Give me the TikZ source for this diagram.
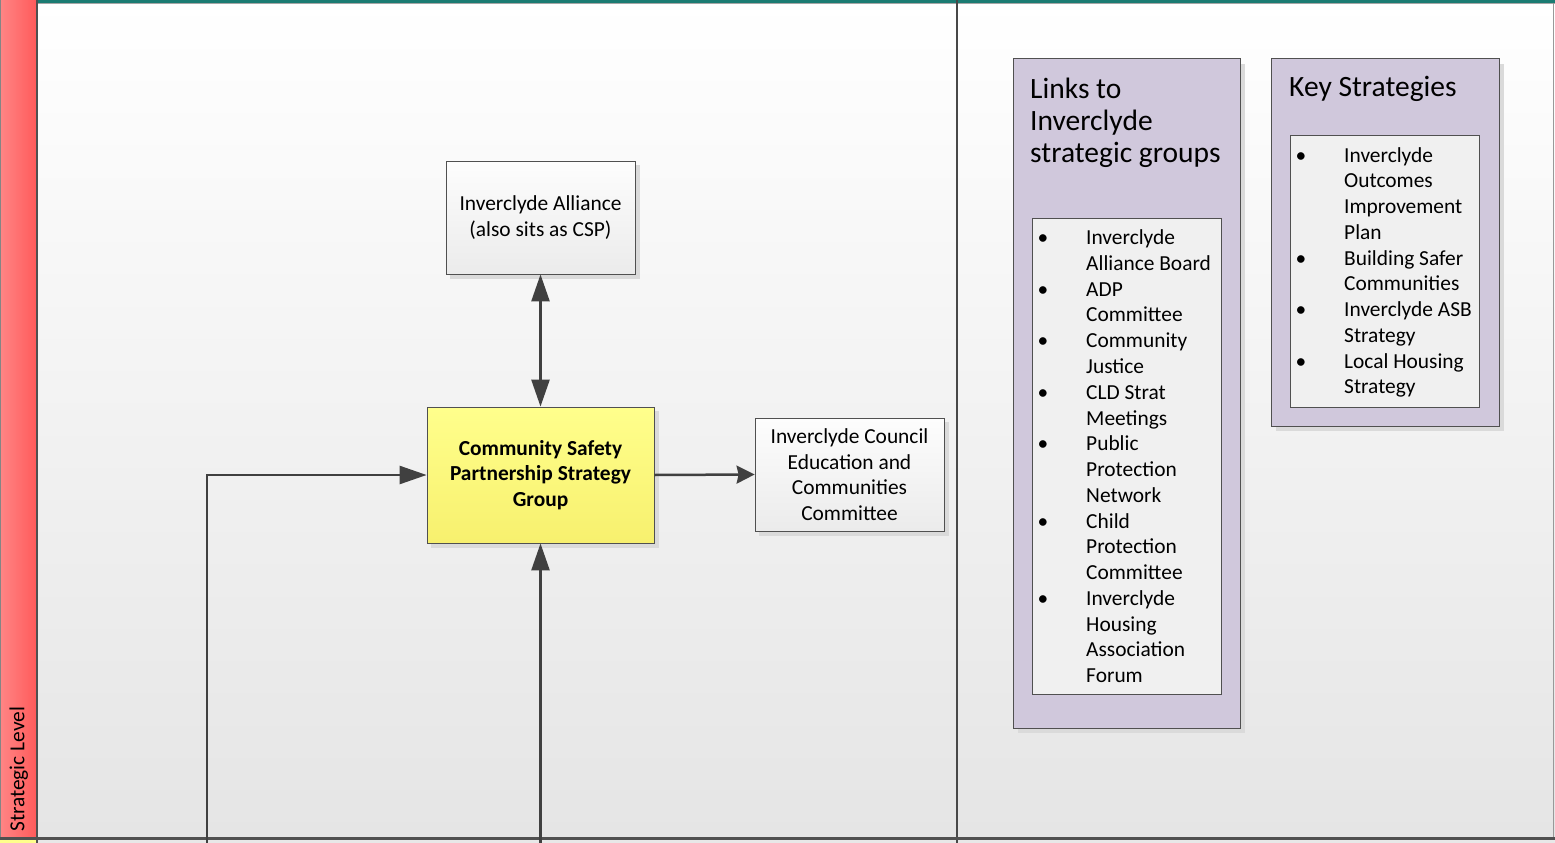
\documentclass[tikz,border=0pt]{standalone}
\usepackage{fontspec}
\setmainfont{Carlito}
\usetikzlibrary{arrows.meta}
\definecolor{edgec}{HTML}{505050}
\definecolor{arrowc}{HTML}{404040}
\definecolor{lav}{HTML}{D0C8DC}
\definecolor{tealline}{HTML}{1B7B72}
\definecolor{bandL}{HTML}{FF8585}
\definecolor{bandR}{HTML}{FF5A5A}
\definecolor{boxtop}{HTML}{FDFDFD}
\definecolor{boxbot}{HTML}{EBEBEB}
\definecolor{yeltop}{HTML}{FFFF8C}
\definecolor{yelbot}{HTML}{F7F06E}
\definecolor{inner}{HTML}{F0F0F0}
\definecolor{shad}{HTML}{DADADA}
\definecolor{bgbot}{HTML}{E5E5E5}
\definecolor{bgfoot}{HTML}{E8E8E8}
\tikzset{
  bodyfont/.style={font=\fontsize{21.4}{25.7}\selectfont},
  titlefont/.style={font=\fontsize{29.5}{32}\selectfont},
  procbox/.style={draw=edgec, line width=0.8pt, top color=boxtop, bottom color=boxbot,
     align=center, bodyfont, inner sep=0pt},
  cspbox/.style={draw=edgec, line width=0.8pt, top color=yeltop, bottom color=yelbot,
     align=center, font=\fontsize{21.4}{25.7}\selectfont\bfseries, inner sep=0pt},
  conn/.style={draw=arrowc, line width=2.5pt},
  bigtip/.style={-{Triangle[length=27pt,width=18pt]}},
  ln/.style={anchor=mid west, inner sep=0pt, bodyfont, yshift=-5pt},
  bul/.style={anchor=mid, inner sep=0pt, bodyfont, yshift=-5pt},
  ttl/.style={anchor=mid west, inner sep=0pt, titlefont, yshift=-7pt},
}
\begin{document}
\begin{tikzpicture}[x=1pt,y=-1pt]
\useasboundingbox (0,0) rectangle (1555,843);
% background
\shade[top color=white, bottom color=bgbot] (37,0) rectangle (1555,838);
\fill[bgfoot] (37,838) rectangle (1555,843);
% left band
\shade[left color=bandL, right color=bandR] (0,0) rectangle (37,838);
\draw[edgec!70, line width=1pt] (0.5,0) -- (0.5,838);
\fill[yeltop] (0,839) rectangle (37,843);
\draw[edgec, line width=2.5pt] (37,0) -- (37,843);
% top and right edges
\fill[tealline] (38,0) rectangle (1555,3);
\draw[gray!70, line width=1pt] (38,3.6) -- (1555,3.6);
\draw[gray!80, line width=1.5pt] (1553.5,3) -- (1553.5,838);
% lane divider and bottom
\draw[edgec!90!black, line width=2.5pt] (957,0) -- (957,843);
\draw[edgec, line width=2.5pt] (0,838.5) -- (1555,838.5);
% lane label
\node[rotate=90, anchor=mid west, inner sep=0pt, bodyfont] (lane) at (22,832) {Strategic Level};

% shadows
\fill[shad] (450,165) rectangle (640,279);
\fill[shad] (431,411) rectangle (659,548);
\fill[shad] (759,422) rectangle (949,536);
\fill[shad] (1018,64) rectangle (1245,733);
\fill[shad] (1276,64) rectangle (1504,431);

% process boxes
\node[procbox, minimum width=189pt, minimum height=113pt] (alliance) at (540.5,217.5)
  {Inverclyde Alliance\\(also sits as CSP)};
\node[cspbox, minimum width=227pt, minimum height=136pt] (csp) at (540.5,475)
  {Community Safety\\Partnership Strategy\\Group};
\node[procbox, minimum width=189pt, minimum height=113pt] (council) at (849.5,474.5)
  {Inverclyde Council\\Education and\\Communities\\Committee};

% connectors
\coordinate (leftfoot) at (207,843);
\coordinate (midfoot) at (540.5,843);
\draw[conn, {Triangle[length=27pt,width=18pt]}-{Triangle[length=27pt,width=18pt]}]
  (alliance.south) -- (csp.north);
\draw[conn, -{Stealth[length=18pt,width=18pt,inset=2pt]}] (csp.east) -- (council.west);
\draw[conn, bigtip] (leftfoot) |- (csp.west);
\draw[conn, bigtip] (midfoot) -- (csp.south);

% Links panel
\draw[edgec, line width=1pt, fill=lav] (1013,59) rectangle (1240,728);
\node[ttl] (lt1) at (1030,89) {Links to};
\node[ttl] (lt2) at (1030,121) {Inverclyde};
\node[ttl] (lt3) at (1030,153) {strategic groups};
\draw[edgec, line width=1pt, fill=inner] (1032,218) rectangle (1221,694);
\foreach \y in {237,289,340,392,443,521,598}
  \node[bul] (lb\y) at (1043,\y) {•};
\foreach \t/\y in {Inverclyde/237, Alliance Board/263, ADP/289, Committee/314,
  Community/340, Justice/366, CLD Strat/392, Meetings/418, Public/443,
  Protection/469, Network/495, Child/521, Protection/546, Committee/572,
  Inverclyde/598, Housing/624, Association/649, Forum/675}
  \node[ln] (l\y) at (1086,\y) {\t};

% Key strategies panel
\draw[edgec, line width=1pt, fill=lav] (1271,59) rectangle (1499,426);
\node[ttl] (kt) at (1289,87) {Key Strategies};
\draw[edgec, line width=1pt, fill=inner] (1290,135) rectangle (1479,407);
\foreach \y in {155,258,309,361}
  \node[bul] (kb\y) at (1301,\y) {•};
\foreach \t/\y in {Inverclyde/155, Outcomes/180, Improvement/206, Plan/232,
  Building Safer/258, Communities/283, Inverclyde ASB/309, Strategy/335,
  Local Housing/361, Strategy/386}
  \node[ln] (k\y) at (1344,\y) {\t};
\end{tikzpicture}
\end{document}
